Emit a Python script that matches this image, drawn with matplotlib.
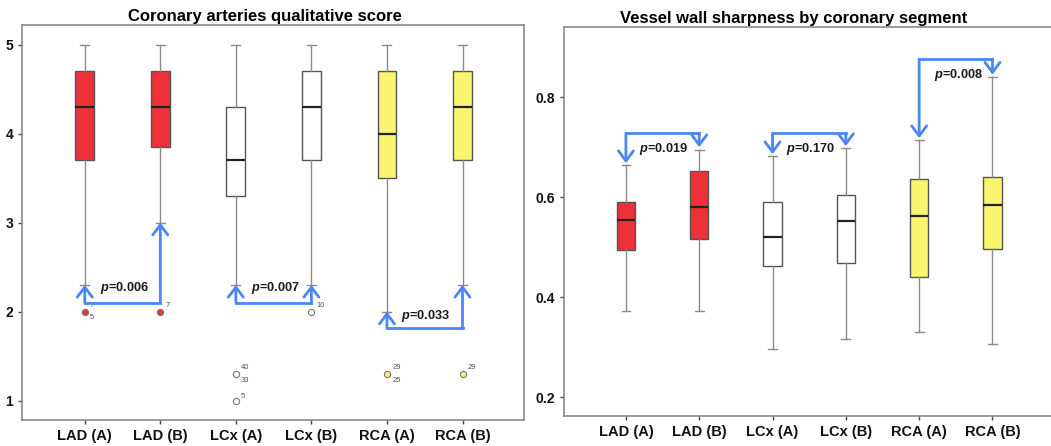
import numpy as np
import matplotlib
matplotlib.use("Agg")
import matplotlib.pyplot as plt

plt.rcParams['font.family'] = ['Liberation Sans', 'DejaVu Sans']
plt.rcParams['mathtext.fontset'] = 'custom'
plt.rcParams['mathtext.it'] = 'Liberation Sans:italic:bold'
plt.rcParams['mathtext.rm'] = 'Liberation Sans:bold'

# ---------------- data ----------------
segments = ['LAD (A)', 'LAD (B)', 'LCx (A)', 'LCx (B)', 'RCA (A)', 'RCA (B)']
box_colors = ['#ee3038', '#ee3038', '#ffffff', '#ffffff', '#f9f56f', '#f9f56f']

# qualitative score (left)
q_whishi = [5.0, 5.0, 5.0, 5.0, 5.0, 5.0]
q_q3 = [4.7, 4.7, 4.3, 4.7, 4.7, 4.7]
q_med = [4.3, 4.3, 3.7, 4.3, 4.0, 4.3]
q_q1 = [3.7, 3.85, 3.3, 3.7, 3.5, 3.7]
q_whislo = [2.3, 3.0, 2.3, 2.3, 2.0, 2.3]
q_fliers = [[2.0], [2.0], [1.3, 1.0], [2.0], [1.3], [1.3]]
q_flier_ids = [[('7', 'up'), ('5', 'down')], [('7', 'up')],
               [('40', 'up'), ('33', 'down'), ('5', 'side')], [('10', 'up')],
               [('29', 'up'), ('25', 'down')], [('29', 'up')]]
q_flier_id_y = [[2.0, 2.0], [2.0], [1.3, 1.3, 1.0], [2.0], [1.3, 1.3], [1.3]]

# vessel wall sharpness (right)
s_whishi = [0.664, 0.694, 0.682, 0.698, 0.714, 0.840]
s_q3 = [0.590, 0.652, 0.590, 0.604, 0.636, 0.640]
s_med = [0.555, 0.580, 0.520, 0.552, 0.562, 0.584]
s_q1 = [0.494, 0.517, 0.462, 0.468, 0.440, 0.496]
s_whislo = [0.372, 0.372, 0.296, 0.316, 0.330, 0.306]

# comparisons: (i, j, bar level, tip i, tip j, label, label x, label y)
q_pairs = [(0, 1, 2.1, 2.3, 3.0, '0.006', 0.2, 2.26),
           (2, 3, 2.1, 2.3, 2.3, '0.007', 2.2, 2.26),
           (4, 5, 1.81, 2.0, 2.3, '0.033', 4.18, 1.95)]
s_pairs = [(0, 1, 0.728, 0.668, 0.700, '0.019', 0.18, 0.696),
           (2, 3, 0.728, 0.686, 0.702, '0.170', 2.19, 0.696),
           (4, 5, 0.876, 0.718, 0.845, '0.008', 4.2, 0.844)]

arrow_blue = '#4a87f5'
gray = '#8a8a8a'


def draw_boxes(ax, whishi, q3, med, q1, whislo, fliers=None):
    stats = []
    for k in range(len(segments)):
        stats.append(dict(med=med[k], q1=q1[k], q3=q3[k], whislo=whislo[k],
                          whishi=whishi[k], fliers=fliers[k] if fliers else []))
    bp = ax.bxp(stats, positions=np.arange(len(segments)), widths=0.25,
                patch_artist=True, showfliers=False,
                boxprops=dict(edgecolor='#555555', linewidth=1.0),
                medianprops=dict(color='#222222', linewidth=1.6),
                whiskerprops=dict(color=gray, linewidth=1.0),
                capprops=dict(color=gray, linewidth=1.0), capwidths=0.12)
    for patch, c in zip(bp['boxes'], box_colors):
        patch.set_facecolor(c)
    return bp


def draw_pairs(ax, pairs):
    for i, j, bar, ti, tj, lab, lx, ly in pairs:
        ax.plot([i, j], [bar, bar], color=arrow_blue, lw=2.0, solid_capstyle='projecting', zorder=4)
        for x, tip in ((i, ti), (j, tj)):
            ax.annotate('', xy=(x, tip), xytext=(x, bar),
                        arrowprops=dict(arrowstyle='->,head_length=0.6,head_width=0.45',
                                        color=arrow_blue, lw=2.0,
                                        shrinkA=0, shrinkB=0, mutation_scale=12),
                        zorder=4)
        ax.text(lx, ly, r'$p$=' + lab, fontsize=9.2, fontweight='bold',
                ha='left', va='center', color='#1a1a1a', zorder=5)


def style_axes(ax):
    for s in ax.spines.values():
        s.set_color(gray)
        s.set_linewidth(1.2)
    ax.tick_params(axis='both', colors='#444444', length=3, width=1, labelcolor='#111111')
    ax.set_xticks(np.arange(len(segments)))
    ax.set_xticklabels(segments, fontsize=10.5, fontweight='bold')
    for t in ax.get_yticklabels():
        t.set_fontweight('bold')
        t.set_fontsize(10)


fig = plt.figure(figsize=(10.51, 4.46), dpi=100)

# ---------- left panel ----------
ax1 = fig.add_axes([0.021, 0.058, 0.478, 0.886])
draw_boxes(ax1, q_whishi, q_q3, q_med, q_q1, q_whislo, q_fliers)
for k, fl in enumerate(q_fliers):
    ax1.scatter([k] * len(fl), fl, s=20, facecolor=box_colors[k], edgecolor='#777777',
                linewidth=0.8, zorder=3)
    for (lab, pos), yv in zip(q_flier_ids[k], q_flier_id_y[k]):
        dy = {'up': 0.07, 'down': -0.07, 'side': 0.04}[pos]
        ax1.text(k + 0.07, yv + dy, lab, fontsize=5.5, color='#555555', ha='left', va='center')
draw_pairs(ax1, q_pairs)
ax1.set_xlim(-0.83, 5.82)
ax1.set_ylim(0.78, 5.22)
ax1.set_yticks([1, 2, 3, 4, 5])
style_axes(ax1)
ax1.set_title('Coronary arteries qualitative score', fontsize=12, fontweight='bold',
              x=0.483, pad=3)

# ---------- right panel ----------
ax2 = fig.add_axes([0.5366, 0.067, 0.467, 0.872])
draw_boxes(ax2, s_whishi, s_q3, s_med, s_q1, s_whislo)
draw_pairs(ax2, s_pairs)
ax2.set_xlim(-0.845, 5.85)
ax2.set_ylim(0.162, 0.94)
ax2.set_yticks([0.2, 0.4, 0.6, 0.8])
style_axes(ax2)
ax2.set_title('Vessel wall sharpness by coronary segment', fontsize=12, fontweight='bold',
              x=0.468, pad=3)

fig.savefig('out.png', dpi=100)
